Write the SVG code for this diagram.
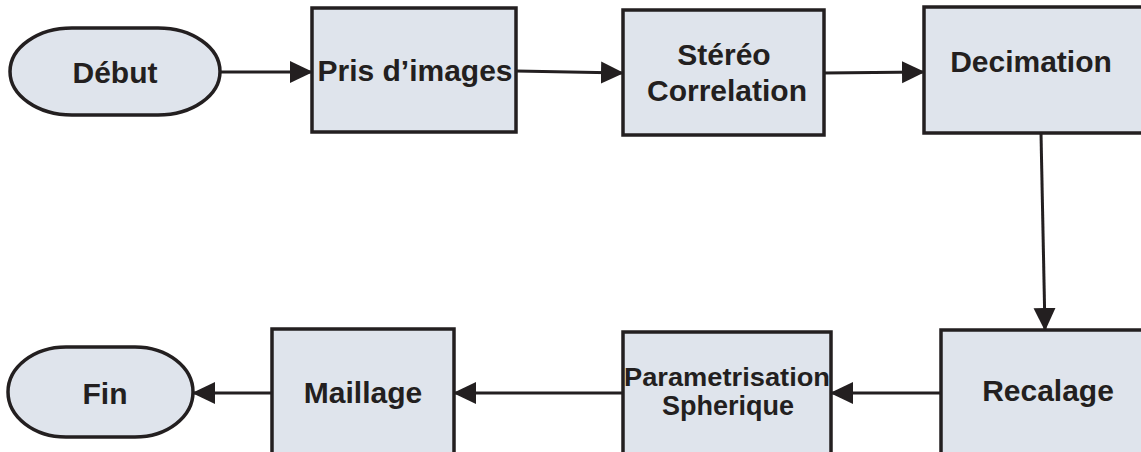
<svg xmlns="http://www.w3.org/2000/svg" width="1141" height="452" viewBox="0 0 1141 452">
<style>
.box{fill:#dfe4ec;stroke:#231f20;stroke-width:3.5}
.t{font-family:"Liberation Sans",Arial,sans-serif;font-weight:bold;font-size:30px;fill:#231f20;text-anchor:middle}
.c{stroke:#231f20;stroke-width:3;fill:none;marker-end:url(#ah)}
</style>
<defs>
<marker id="ah" markerUnits="userSpaceOnUse" markerWidth="24" markerHeight="24" viewBox="0 0 24 24" refX="22" refY="12" orient="auto">
<path d="M0,1 L23,12 L0,23 Z" fill="#231f20"/>
</marker>
</defs>
<rect width="1141" height="452" fill="#fff"/>
<g id="debut"><rect class="box" x="10" y="28" width="210" height="87" rx="62" ry="43.5"/><text class="t" x="115" y="83">Début</text></g>
<g id="pris"><rect class="box" x="312" y="8" width="204" height="124"/><text class="t" x="415" y="81">Pris d’images</text></g>
<g id="stereo"><rect class="box" x="623" y="10" width="201" height="125"/><text class="t" x="724" y="65">Stéréo</text><text class="t" x="727" y="101">Correlation</text></g>
<g id="decimation"><rect class="box" x="924" y="7" width="230" height="126"/><text class="t" x="1031" y="72">Decimation</text></g>
<g id="recalage"><rect class="box" x="941" y="330" width="220" height="140"/><text class="t" x="1048" y="401">Recalage</text></g>
<g id="param"><rect class="box" x="623" y="332" width="208" height="140"/><text class="t" x="727" y="386" style="font-size:26px" textLength="206" lengthAdjust="spacingAndGlyphs">Parametrisation</text><text class="t" x="728" y="415" style="font-size:27px">Spherique</text></g>
<g id="maillage"><rect class="box" x="272" y="329" width="182" height="140"/><text class="t" x="363" y="403">Maillage</text></g>
<g id="fin"><rect class="box" x="8" y="347" width="185" height="90" rx="58" ry="45"/><text class="t" x="105" y="404">Fin</text></g>
<g id="connectors">
<line class="c" x1="220" y1="72" x2="312" y2="72"/>
<line class="c" x1="516" y1="71" x2="623" y2="73"/>
<line class="c" x1="824" y1="73" x2="924" y2="72"/>
<line class="c" x1="1041" y1="133" x2="1045" y2="330"/>
<line class="c" x1="941" y1="393" x2="831" y2="393"/>
<line class="c" x1="623" y1="393" x2="454" y2="393"/>
<line class="c" x1="272" y1="393" x2="193" y2="393"/>
</g>
</svg>
